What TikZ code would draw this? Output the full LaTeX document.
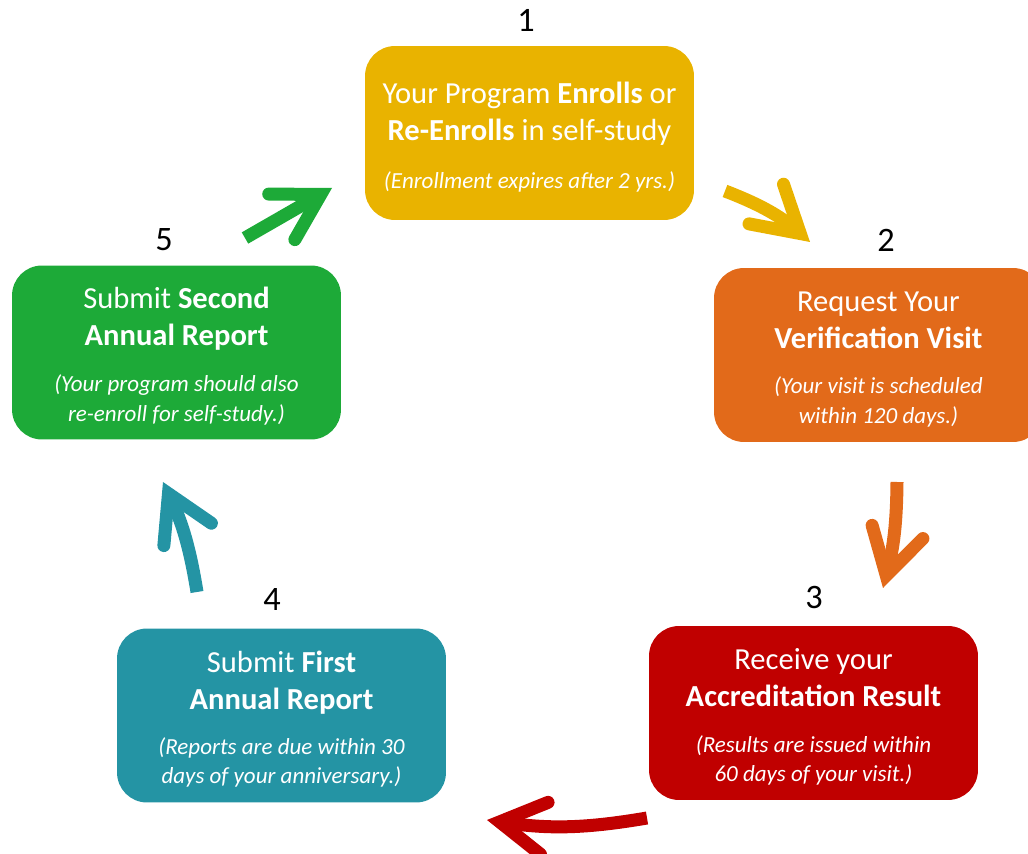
\documentclass[tikz,border=0pt]{standalone}
\usepackage{fontspec}
\setmainfont{Carlito}
\usetikzlibrary{arrows.meta}

\definecolor{enrollcol}{RGB}{233,179,0}
\definecolor{visitcol}{RGB}{226,106,26}
\definecolor{resultcol}{RGB}{192,0,0}
\definecolor{firstcol}{RGB}{36,148,164}
\definecolor{secondcol}{RGB}{29,170,56}
\newcommand{\note}[1]{{\fontsize{13.1}{16}\selectfont\itshape #1}}
\newcommand{\lift}{\rule{0pt}{16.5pt}}

\begin{document}
\begin{tikzpicture}[x=0.02cm, y=-0.02cm,
  stage/.style={fill=#1, rounded corners=0.6cm, minimum width=6.58cm, minimum height=3.48cm,
    inner sep=0pt, text=white, align=center, font=\fontsize{17.4}{21}\selectfont},
  flow/.style={draw=#1, line width=0.26cm,
    -{Straight Barb[length=0.9cm, width=1.05cm, line width=0.26cm, line cap=round, line join=miter]}},
  num/.style={font=\fontsize{19.5}{23}\selectfont}]
\useasboundingbox (0,0) rectangle (1028,854);
% Stages
\node[stage=enrollcol] (enroll) at (529.5,133) {\lift Your Program \textbf{Enrolls} or\\ \textbf{Re-Enrolls} in self-study\\[0.22cm]
  \note{(Enrollment expires after 2 yrs.)}};
\node[stage=visitcol] (visit) at (878.5,355) {\lift Request Your\\ \textbf{Verification Visit}\\[0.16cm]
  \note{(Your visit is scheduled}\\[-0.14cm] \note{within 120 days.)}};
\node[stage=resultcol] (result) at (813.5,713) {\lift Receive your\\ \textbf{Accreditation Result}\\[0.18cm]
  \note{(Results are issued within}\\[-0.14cm] \note{60 days of your visit.)}};
\node[stage=firstcol] (first) at (281.5,715.5) {\lift Submit \textbf{First}\\ \textbf{Annual Report}\\[0.16cm]
  \note{(Reports are due within 30}\\[-0.14cm] \note{days of your anniversary.)}};
\node[stage=secondcol] (second) at (176.5,352.5) {\lift Submit \textbf{Second}\\ \textbf{Annual Report}\\[0.18cm]
  \note{(Your program should also}\\[-0.14cm] \note{re-enroll for self-study.)}};
% Step numbers
\foreach \i/\x/\y in {1/526/20, 2/886/240, 3/814/598, 4/272/600, 5/164/240}
  \node[num] (num\i) at (\x,\y) {\i};
% Arrows
\coordinate (a1) at (725,191); \coordinate (b1) at (810,242);
\coordinate (a2) at (897,482); \coordinate (b2) at (883,588);
\coordinate (a3) at (647,818); \coordinate (b3) at (487,820);
\coordinate (a4) at (197,592); \coordinate (b4) at (163,482);
\coordinate (a5) at (245,238); \coordinate (b5) at (332,188);
\draw[flow=enrollcol] (a1) to[bend left=10] (b1);
\draw[flow=visitcol] (a2) to[bend left=7] (b2);
\draw[flow=resultcol] (a3) to[bend left=9] (b3);
\draw[flow=firstcol] (a4) to[bend right=8] (b4);
\draw[flow=secondcol] (a5) -- (b5);
\end{tikzpicture}
\end{document}
